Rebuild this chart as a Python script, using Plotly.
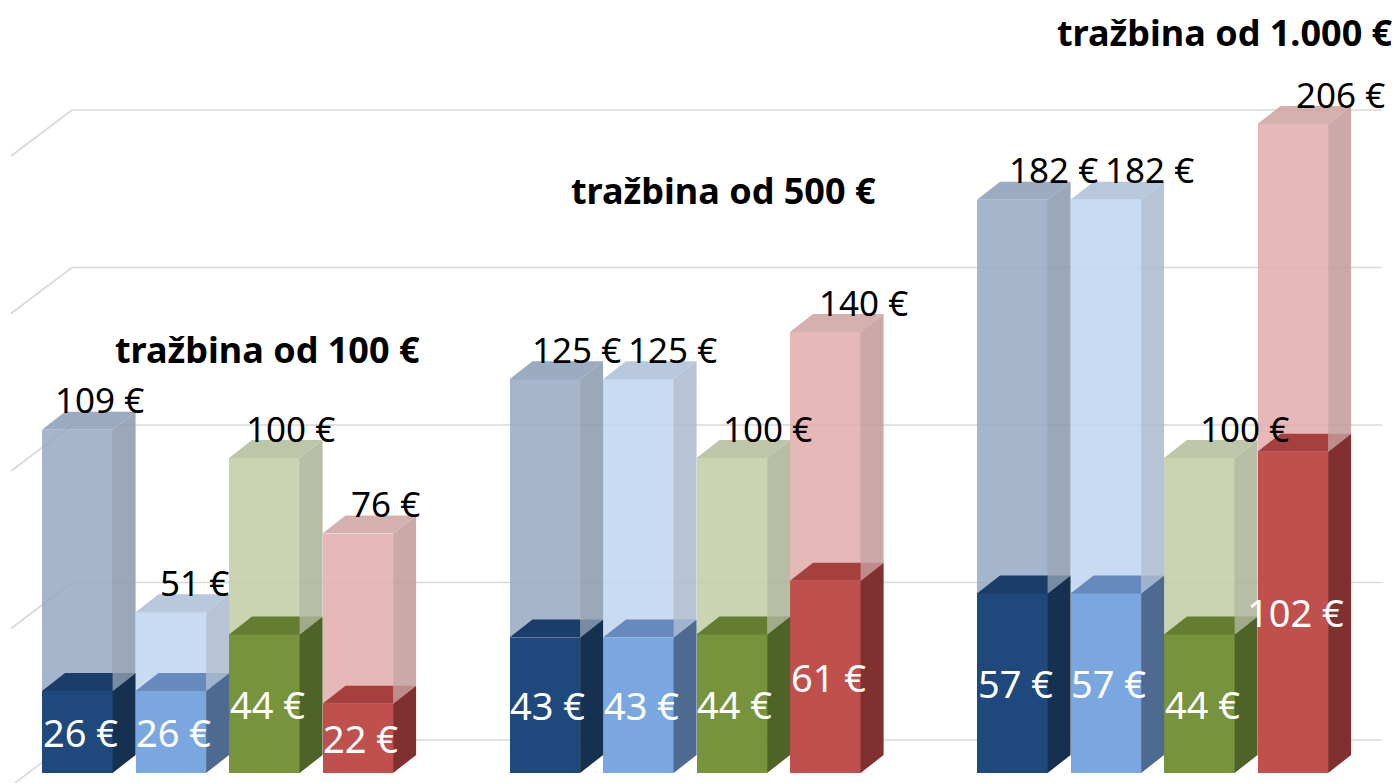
import plotly.graph_objects as go

# ---------------- data ----------------
group_titles = ["tražbina od 100 €", "tražbina od 500 €", "tražbina od 1.000 €"]
series_names = ["serija 1", "serija 2", "serija 3", "serija 4"]
# lower (dark) part of each bar, per series, across the three groups
base_values = [
    [26, 43, 57],
    [26, 43, 57],
    [44, 44, 44],
    [22, 61, 102],
]
# full height (light part ends here), per series, across the three groups
total_values = [
    [109, 125, 182],
    [51, 125, 182],
    [100, 100, 100],
    [76, 140, 206],
]
grid_values = [0, 50, 100, 150, 200]

# ---------------- layout constants ----------------
W, H = 1397, 783
X0_PX, SLOT_PX = 42, 93.5
Y0_PX, UNIT_PX = 773, 3.15
BAR_W = 0.755
DX = 23 / SLOT_PX
DY = 18 / UNIT_PX
WALL_DY = 33 / UNIT_PX
WALL_X0 = (72 - X0_PX) / SLOT_PX
WALL_X1 = (1382 - X0_PX) / SLOT_PX
DIAG_DX = 61 / SLOT_PX
DIAG_DY = 46 / UNIT_PX
title_pos = [(2.41, 134.3), (7.29, 185.0), (12.65, 235.2)]

front_dark = ["#1F497D", "#7BA7E0", "#77933C", "#C0504D"]
side_dark = ["#15314F", "#4F6A91", "#4F6228", "#7F302F"]
top_dark = ["#1B3D69", "#6689BE", "#647D32", "#A6403F"]
front_light = ["#A5B5CC", "#C8DBF2", "#CAD4B2", "#E6B8B7"]
side_light = ["#9AA8B9", "#B7C4D6", "#B8BEA6", "#CBA9A8"]
top_light = ["#9BABC1", "#B8C8DD", "#BEC6AA", "#D4B0AF"]
ALPHA = 0.85


def see_through(hex_col, a=ALPHA):
    """rgba colour that gives hex_col when laid over white with alpha a."""
    h = hex_col.lstrip("#")
    rgb = [int(h[i:i + 2], 16) for i in (0, 2, 4)]
    c = [max(0, min(255, round((v - (1 - a) * 255) / a))) for v in rgb]
    return f"rgba({c[0]},{c[1]},{c[2]},{a})"


n_groups = len(group_titles)
fig = go.Figure()


def positions(si):
    return [g * 5 + si for g in range(n_groups)]


# front faces as bars
for si, name in enumerate(series_names):
    pos = positions(si)
    centers = [p + BAR_W / 2 for p in pos]
    fig.add_trace(go.Bar(
        x=centers, y=base_values[si], base=[0] * n_groups, width=BAR_W,
        marker=dict(color=front_dark[si], line=dict(width=0)),
        name=name, showlegend=False, hoverinfo="skip"))
    fig.add_trace(go.Bar(
        x=centers,
        y=[t - b for t, b in zip(total_values[si], base_values[si])],
        base=base_values[si], width=BAR_W,
        marker=dict(color=see_through(front_light[si]), line=dict(width=0)),
        name=name, showlegend=False, hoverinfo="skip"))


def side_poly(p, lo, hi):
    x1 = p + BAR_W
    return [x1, x1 + DX, x1 + DX, x1, x1, None], [lo, lo + DY, hi + DY, hi, lo, None]


def top_poly(p, h):
    return ([p, p + BAR_W, p + BAR_W + DX, p + DX, p, None],
            [h, h, h + DY, h + DY, h, None])


def add_poly(xs, ys, color):
    fig.add_trace(go.Scatter(x=xs, y=ys, mode="lines", fill="toself",
                             fillcolor=color, line=dict(width=0),
                             showlegend=False, hoverinfo="skip"))


for si in range(len(series_names)):
    pos = positions(si)
    b = base_values[si]
    t = total_values[si]
    xs, ys = [], []
    for p, bv in zip(pos, b):
        a, c = side_poly(p, 0, bv)
        xs += a; ys += c
    add_poly(xs, ys, side_dark[si])
    xs, ys = [], []
    for p, bv in zip(pos, b):
        a, c = top_poly(p, bv)
        xs += a; ys += c
    add_poly(xs, ys, top_dark[si])
    xs, ys = [], []
    for p, bv, tv in zip(pos, b, t):
        a, c = side_poly(p, bv, tv)
        xs += a; ys += c
    add_poly(xs, ys, see_through(side_light[si]))
    xs, ys = [], []
    for p, tv in zip(pos, t):
        a, c = top_poly(p, tv)
        xs += a; ys += c
    add_poly(xs, ys, see_through(top_light[si]))

# back-wall gridlines with the side-wall diagonals
shapes = []
for v in grid_values:
    yb = v + WALL_DY
    shapes.append(dict(type="line", xref="x", yref="y", x0=WALL_X0, x1=WALL_X1,
                       y0=yb, y1=yb, line=dict(color="#D9D9D9", width=1.6),
                       layer="below"))
    shapes.append(dict(type="line", xref="x", yref="y", x0=WALL_X0 - DIAG_DX,
                       x1=WALL_X0, y0=yb - DIAG_DY, y1=yb,
                       line=dict(color="#D9D9D9", width=1.6), layer="below"))

annotations = []
for si in range(len(series_names)):
    for p, bv, tv in zip(positions(si), base_values[si], total_values[si]):
        c = p + BAR_W / 2
        shift_px = 22 + 0.021 * (X0_PX + c * SLOT_PX - 77)
        annotations.append(dict(x=c + shift_px / SLOT_PX, y=tv + 9.5,
                                text=f"{tv} €", showarrow=False,
                                xanchor="center", yanchor="middle",
                                font=dict(family="Noto Sans", size=35, color="black")))
        annotations.append(dict(x=c + 3 / SLOT_PX, y=bv / 2,
                                text=f"{bv} €", showarrow=False,
                                xanchor="center", yanchor="middle",
                                font=dict(family="Noto Sans", size=38, color="white")))

for title, (tx, ty) in zip(group_titles, title_pos):
    annotations.append(dict(x=tx, y=ty, text=f"<b>{title}</b>", showarrow=False,
                            xanchor="center", yanchor="middle",
                            font=dict(family="Noto Sans", size=36, color="black")))

fig.update_layout(
    width=W, height=H,
    margin=dict(l=0, r=0, t=0, b=0),
    paper_bgcolor="white", plot_bgcolor="white",
    barmode="overlay", bargap=0,
    showlegend=False,
    xaxis=dict(range=[-X0_PX / SLOT_PX, (W - X0_PX) / SLOT_PX], visible=False,
               fixedrange=True),
    yaxis=dict(range=[-(H - Y0_PX) / UNIT_PX, Y0_PX / UNIT_PX], visible=False,
               fixedrange=True),
    shapes=shapes,
    annotations=annotations,
)

fig.write_html("out.html",
               config={"displayModeBar": False},
               post_script="document.body.style.margin='0';"
                           "document.body.style.overflow='hidden';")
